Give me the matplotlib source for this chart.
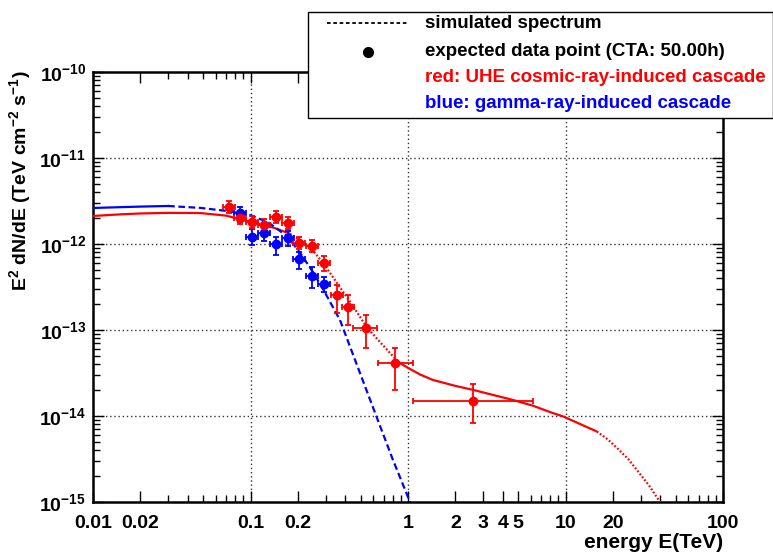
import numpy as np
import matplotlib
matplotlib.use("Agg")
import matplotlib.pyplot as plt
from matplotlib.ticker import FixedLocator, NullFormatter, FixedFormatter
from matplotlib.lines import Line2D
from matplotlib.patches import Rectangle

plt.rcParams['font.family'] = ['Liberation Sans', 'DejaVu Sans']
plt.rcParams['font.weight'] = 'bold'
plt.rcParams['mathtext.fontset'] = 'custom'
plt.rcParams['mathtext.rm'] = 'Liberation Sans:bold'
plt.rcParams['mathtext.bf'] = 'Liberation Sans:bold'
plt.rcParams['mathtext.it'] = 'Liberation Sans:bold'
plt.rcParams['mathtext.default'] = 'rm'

# ---------------- data ----------------
# red: UHE cosmic-ray-induced cascade (model curve, log10 of E^2 dN/dE)
red_curve_E = [0.01, 0.015, 0.02, 0.03, 0.048, 0.07, 0.1, 0.14, 0.178,
               0.206, 0.25, 0.289, 0.35, 0.428, 0.549, 0.664, 0.826, 0.889,
               1.0, 1.2, 1.44, 2.0, 2.61, 3.5, 4.65, 6.2, 8.0, 9.75, 12.5,
               15.8, 18.5, 21.2, 25.0, 28.4, 34.0, 39.8, 45.0]
red_curve_logF = [-11.674, -11.655, -11.645, -11.638, -11.640, -11.670,
                  -11.744, -11.810, -11.880, -11.960, -12.080, -12.220,
                  -12.440, -12.670, -12.970, -13.140, -13.330, -13.384,
                  -13.440, -13.520, -13.581, -13.650, -13.698, -13.757,
                  -13.814, -13.880, -13.955, -14.008, -14.097, -14.180,
                  -14.270, -14.370, -14.500, -14.628, -14.810, -15.000,
                  -15.150]
# blue: gamma-ray-induced cascade (model curve)
blue_curve_E = [0.01, 0.02, 0.03, 0.048, 0.07, 0.1, 0.13, 0.171, 0.206,
                0.25, 0.30, 0.37, 0.482, 0.65, 0.803, 1.03, 1.2]
blue_curve_logF = [-11.581, -11.565, -11.558, -11.580, -11.615, -11.665,
                   -11.750, -11.910, -12.100, -12.330, -12.580, -12.884,
                   -13.442, -14.070, -14.512, -15.000, -15.300]

# expected data points
red_E = [0.073, 0.0857, 0.102, 0.122, 0.145, 0.173, 0.203, 0.245, 0.293,
         0.354, 0.416, 0.541, 0.826, 2.59]
red_E_lo = [0.067, 0.0786, 0.0936, 0.112, 0.133, 0.159, 0.186, 0.225, 0.269,
            0.325, 0.382, 0.448, 0.646, 1.076]
red_E_hi = [0.0795, 0.0934, 0.111, 0.133, 0.158, 0.189, 0.221, 0.267, 0.319,
            0.386, 0.453, 0.635, 1.076, 6.22]
red_F = [2.69e-12, 2.00e-12, 1.80e-12, 1.66e-12, 2.06e-12, 1.75e-12,
         1.03e-12, 9.5e-13, 6.0e-13, 2.55e-13, 1.85e-13, 1.05e-13, 4.1e-14,
         1.5e-14]
red_F_hi = [3.18e-12, 2.36e-12, 2.12e-12, 1.95e-12, 2.42e-12, 2.06e-12,
            1.20e-12, 1.11e-12, 7.24e-13, 3.33e-13, 2.55e-13, 1.49e-13,
            6.18e-14, 2.35e-14]
red_F_lo = [2.29e-12, 1.71e-12, 1.53e-12, 1.42e-12, 1.75e-12, 1.49e-12,
            8.75e-13, 8.07e-13, 4.85e-13, 1.58e-13, 1.14e-13, 6.18e-14,
            2.0e-14, 8.3e-15]

blue_E = [0.0857, 0.102, 0.122, 0.145, 0.173, 0.203, 0.245, 0.293]
blue_E_lo = [0.0786, 0.0936, 0.112, 0.133, 0.159, 0.186, 0.225, 0.269]
blue_E_hi = [0.0934, 0.111, 0.133, 0.158, 0.189, 0.221, 0.267, 0.319]
blue_F = [2.29e-12, 1.20e-12, 1.34e-12, 1.0e-12, 1.17e-12, 6.7e-13,
          4.25e-13, 3.43e-13]
blue_F_hi = [2.69e-12, 1.49e-12, 1.62e-12, 1.20e-12, 1.42e-12, 8.07e-13,
             5.4e-13, 4.13e-13]
blue_F_lo = [1.80e-12, 9.73e-13, 1.08e-12, 7.45e-13, 9.48e-13, 5.12e-13,
             3.08e-13, 2.77e-13]

x_tick_labels = ['0.01', '0.02', '0.1', '0.2', '1', '2', '3', '4', '5',
                 '10', '20', '100']
y_decades = [-15, -14, -13, -12, -11, -10]

legend_entries = ['simulated spectrum', 'expected data point (CTA: 50.00h)',
                  'red: UHE cosmic-ray-induced cascade',
                  'blue: gamma-ray-induced cascade']

# ---------------- figure ----------------
W, H = 773, 554
fig = plt.figure(figsize=(W / 100, H / 100), dpi=100)
L, R, T, B = 93, 723, 72, 502
ax = fig.add_axes([L / W, 1 - B / H, (R - L) / W, (B - T) / H])
ax.set_xscale('log')
ax.set_yscale('log')
ax.set_xlim(0.01, 100)
ax.set_ylim(1e-15, 1e-10)

RED = '#ff0000'
BLUE = '#0000ff'

rE = np.array(red_curve_E)
rF = 10 ** np.array(red_curve_logF)
bE = np.array(blue_curve_E)
bF = 10 ** np.array(blue_curve_logF)

dotted = (0, (0.8, 0.9))
dashed = (0, (3.0, 1.6))

# red curve: style changes along the curve
segs = [(0.0, 0.178, '-'), (0.178, 0.889, dotted), (0.889, 15.8, '-'),
        (15.8, 1e3, dotted)]
for lo, hi, ls in segs:
    m = (rE >= lo) & (rE <= hi)
    ax.plot(rE[m], rF[m], color=RED, lw=1.6, ls=ls, zorder=3,
            solid_capstyle='butt', dash_capstyle='butt')
bsegs = [(0.0, 0.03, '-'), (0.03, 1e3, dashed)]
for lo, hi, ls in bsegs:
    m = (bE >= lo) & (bE <= hi)
    ax.plot(bE[m], bF[m], color=BLUE, lw=1.6, ls=ls, zorder=3)


def draw_points(E, Elo, Ehi, F, Flo, Fhi, color):
    E = np.array(E); F = np.array(F)
    xerr = [E - np.array(Elo), np.array(Ehi) - E]
    yerr = [F - np.array(Flo), np.array(Fhi) - F]
    ax.errorbar(E, F, xerr=xerr, yerr=yerr, fmt='o', color=color, ms=6.0,
                elinewidth=1.3, capsize=2.2, capthick=1.3, zorder=4)


draw_points(blue_E, blue_E_lo, blue_E_hi, blue_F, blue_F_lo, blue_F_hi, BLUE)
draw_points(red_E, red_E_lo, red_E_hi, red_F, red_F_lo, red_F_hi, RED)

# ticks
xt = [float(s) for s in x_tick_labels]
ax.xaxis.set_major_locator(FixedLocator(xt))
ax.xaxis.set_major_formatter(FixedFormatter(x_tick_labels))
minor_x = [m * 10.0 ** d for d in range(-2, 2) for m in range(2, 10)]
ax.xaxis.set_minor_locator(FixedLocator(minor_x))
ax.xaxis.set_minor_formatter(NullFormatter())
ax.yaxis.set_major_locator(FixedLocator([10.0 ** d for d in y_decades]))
ax.yaxis.set_major_formatter(FixedFormatter(['$10^{%d}$' % d for d in y_decades]))
minor_y = [m * 10.0 ** d for d in range(-15, -10) for m in range(2, 10)]
ax.yaxis.set_minor_locator(FixedLocator(minor_y))
ax.yaxis.set_minor_formatter(NullFormatter())
ax.tick_params(which='both', direction='in', top=True, right=True,
               width=1.0, labelsize=14)
ax.tick_params(which='major', length=8)
ax.tick_params(which='minor', length=5)
ax.tick_params(axis='x', which='both', pad=9)
ax.tick_params(axis='y', which='both', pad=5)
for lab in ax.get_xticklabels() + ax.get_yticklabels():
    lab.set_fontweight('bold')
for sp in ax.spines.values():
    sp.set_linewidth(1.8)

# grid at decades
for d in [-1, 0, 1]:
    ax.axvline(10.0 ** d, color='#333333', lw=1.0, ls=(0, (1, 2)), zorder=1)
for d in [-14, -13, -12, -11]:
    ax.axhline(10.0 ** d, color='#333333', lw=1.0, ls=(0, (1, 2)), zorder=1)

# axis titles
fig.text(20 / W, 1 - 70 / H, r'E$^{2}$ dN/dE (TeV cm$^{-2}$ s$^{-1}$)',
         rotation=90, ha='center', va='top', fontsize=14, fontweight='bold')
fig.text(R / W, 1 - 543 / H, 'energy E(TeV)', ha='right', va='center',
         fontsize=15, fontweight='bold')

# legend box
box = Rectangle((308 / W, 1 - 118 / H), (W - 308) / W, (118 - 12) / H,
                transform=fig.transFigure, facecolor='white',
                edgecolor='black', lw=1.0, zorder=10)
fig.add_artist(box)
fig.add_artist(Line2D([327 / W, 407 / W], [1 - 23 / H, 1 - 23 / H],
                      transform=fig.transFigure, color='black', lw=1.3,
                      ls=(0, (2, 1.5)), zorder=11))
fig.add_artist(Line2D([368 / W], [1 - 52 / H], transform=fig.transFigure,
                      marker='o', ms=7, color='black', ls='none', zorder=11))
rows = [23, 52, 78, 103]
colors = ['black', 'black', RED, BLUE]
for txt, y, c in zip(legend_entries, rows, colors):
    fig.text(425 / W, 1 - y / H, txt, ha='left', va='center',
             fontsize=13.5, fontweight='bold', color=c, zorder=12)

fig.savefig('out.png', dpi=100)
